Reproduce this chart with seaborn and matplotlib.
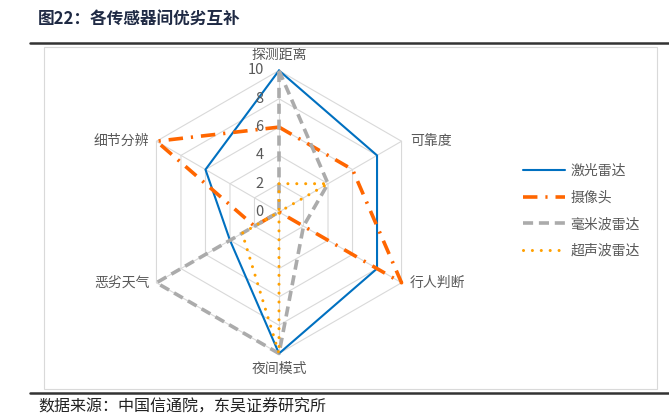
import numpy as np
import matplotlib
matplotlib.use("Agg")
import matplotlib.pyplot as plt
from matplotlib.lines import Line2D
from matplotlib.patches import Rectangle
import seaborn as sns

# data
categories = ['探测距离', '可靠度', '行人判断', '夜间模式', '恶劣天气', '细节分辨']
lidar = [10, 8, 8, 10, 4, 6]
camera = [6, 6, 10, 0, 2, 10]
mmwave = [10, 4, 2, 10, 10, 0]
ultrasonic = [2, 4, 0, 10, 3, 0]
series_names = ['激光雷达', '摄像头', '毫米波雷达', '超声波雷达']
levels = [0, 2, 4, 6, 8, 10]

sns.set_theme(style="white")
plt.rcParams['font.family'] = ['Noto Sans CJK SC', 'DejaVu Sans']

W, H = 669, 418
fig = plt.figure(figsize=(W / 100, H / 100), dpi=100)

cx, cy, R = 279, 212, 141.5
ax = fig.add_axes([(cx - R) / W, (H - cy - R) / H, 2 * R / W, 2 * R / H],
                  projection='polar')
ax.set_theta_offset(np.pi / 2)
ax.set_theta_direction(-1)
ax.set_facecolor('none')
ax.grid(False)
ax.spines['polar'].set_visible(False)

n = len(categories)
theta = np.linspace(0, 2 * np.pi, n, endpoint=False)
theta_c = np.append(theta, theta[0] + 2 * np.pi)

# hexagon grid + spokes
grid_col = '#D9D9D9'
for lv in levels[1:]:
    ax.plot(theta_c, [lv] * (n + 1), color=grid_col, lw=0.8, zorder=1, clip_on=False)
for t in theta:
    ax.plot([t, t], [0, 10], color=grid_col, lw=0.8, zorder=1, clip_on=False)

styles = [
    dict(color='#0070C0', lw=1.5, linestyle='-'),
    dict(color='#FF6600', lw=2.6, linestyle=(0, (4.0, 2.2, 0.6, 2.2))),
    dict(color='#ABABAB', lw=2.6, linestyle=(0, (2.8, 1.6))),
    dict(color='#FFA000', lw=2.2, linestyle=(0, (0.01, 2.9)), dash_capstyle='round'),
]
data = [lidar, camera, mmwave, ultrasonic]
handles = []
for vals, st, name in zip(data, styles, series_names):
    v = list(vals) + [vals[0]]
    sns.lineplot(x=theta_c, y=v, sort=False, estimator=None, ax=ax,
                 clip_on=False, zorder=3, **st)
    handles.append(Line2D([], [], **st))

ax.set_ylim(0, 10)
ax.set_xticks([])
ax.set_yticks([])
ax.set_xlabel('')
ax.set_ylabel('')

# radial tick labels
for lv in levels:
    ax.annotate(str(lv), xy=(0, lv), xytext=(-11, 0), textcoords='offset points',
                ha='right', va='center', fontsize=10.5, color='#595959')

# category labels
offsets = [((0, 11.5), 'center', 'center'), ((6, 0), 'left', 'center'),
           ((6, 0), 'left', 'center'), ((0, -6), 'center', 'top'),
           ((-5, 0), 'right', 'center'), ((-5, 0), 'right', 'center')]
for t, lab, (off, ha, va) in zip(theta, categories, offsets):
    ax.annotate(lab, xy=(t, 10), xytext=off, textcoords='offset points',
                ha=ha, va=va, fontsize=10, color='#595959')

fig.legend(handles=handles, labels=series_names, loc='center left',
           bbox_to_anchor=(511 / W, 1 - 211 / H), frameon=False,
           fontsize=10, handlelength=3.0, handletextpad=0.4, labelspacing=0.9,
           labelcolor='#595959')

# frame and page decoration
fig.add_artist(Rectangle((44 / W, 1 - 389 / H), (657 - 44) / W, (389 - 47) / H,
                         transform=fig.transFigure, fill=False,
                         edgecolor='#D9D9D9', lw=0.8))
fig.add_artist(Line2D([30 / W, 1], [1 - 43 / H] * 2, color='#333333', lw=1.8))
fig.add_artist(Line2D([30 / W, 1], [1 - 393 / H] * 2, color='#333333', lw=1.8))
fig.text(38 / W, 1 - 19 / H, '图22：各传感器间优劣互补', fontsize=12,
         fontweight='bold', color='#1F2A44', ha='left', va='center')
fig.text(38 / W, 1 - 407 / H, '数据来源：中国信通院，东吴证券研究所', fontsize=11.5,
         color='#222222', ha='left', va='center')

fig.savefig('out.png', dpi=100)
